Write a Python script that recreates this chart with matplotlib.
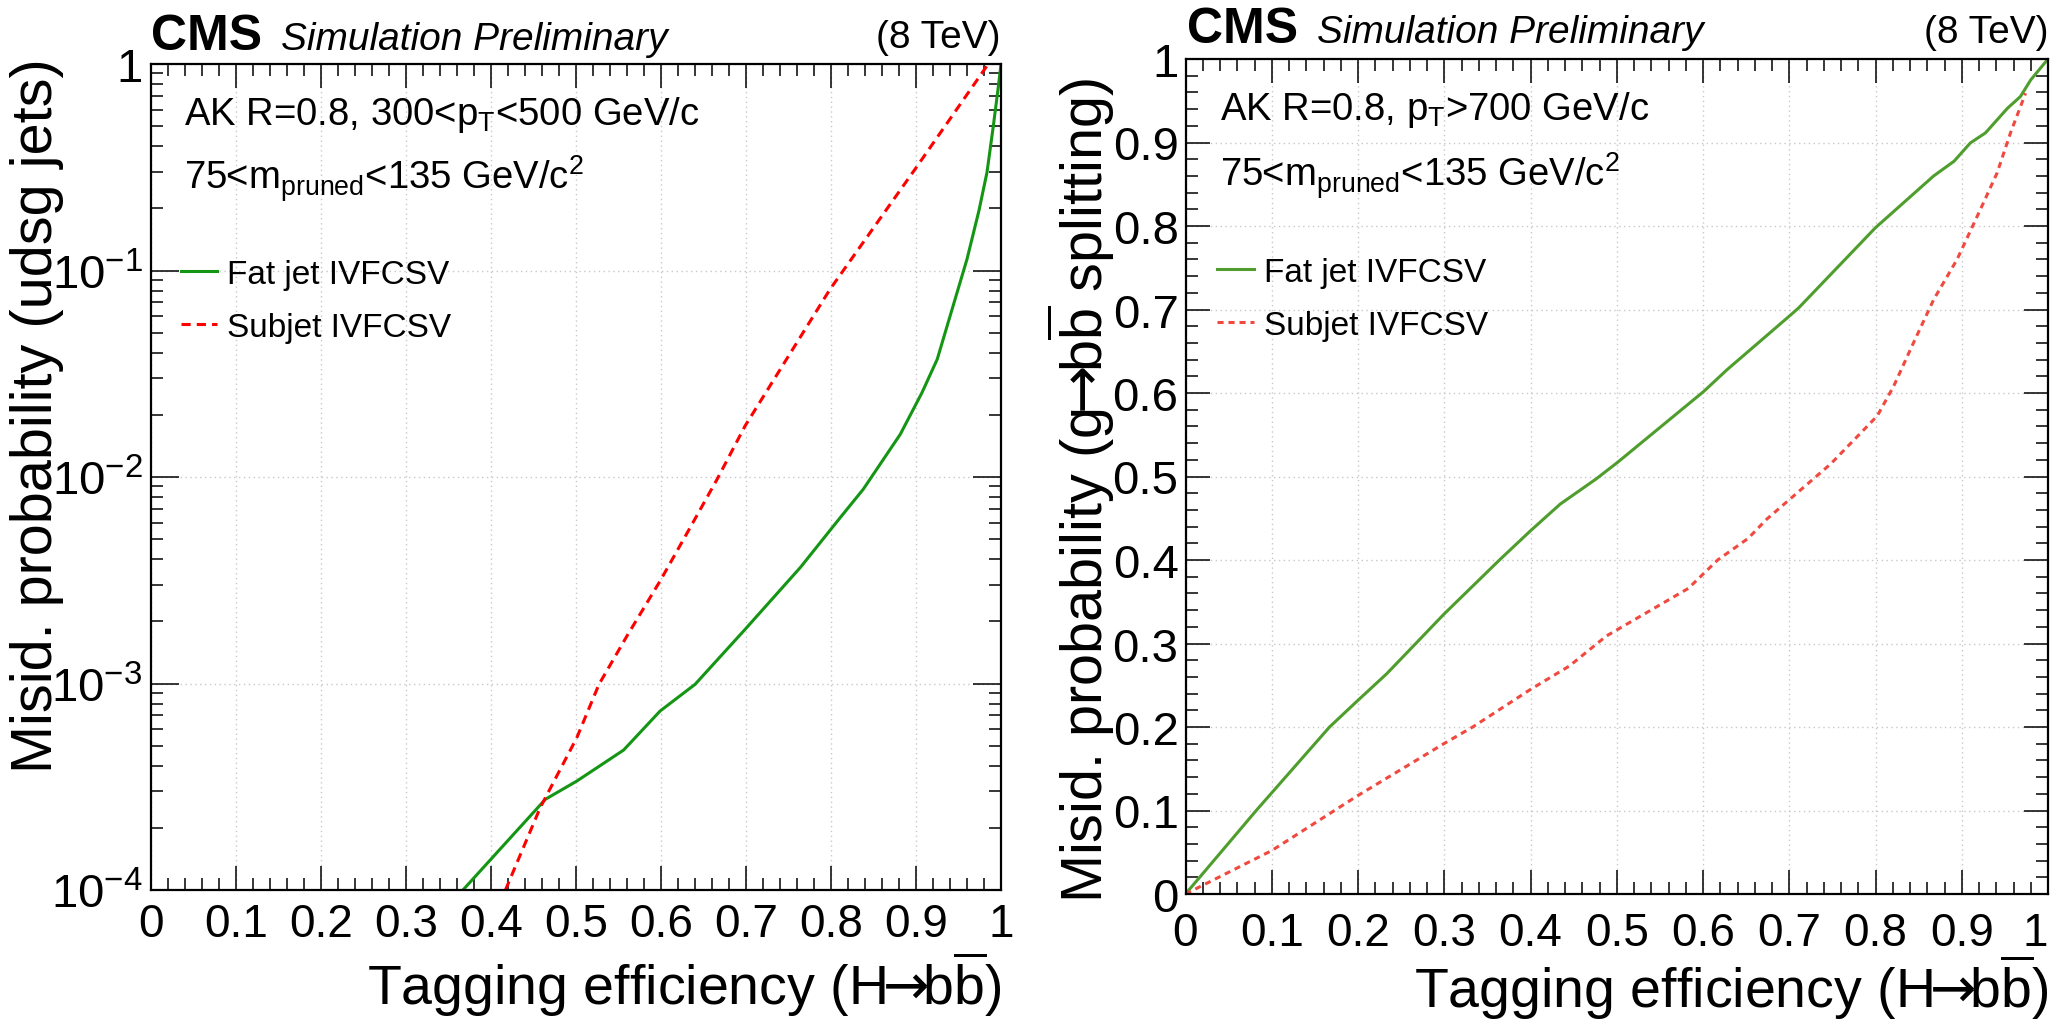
import matplotlib
matplotlib.use("Agg")
import matplotlib.pyplot as plt
from matplotlib import font_manager
from matplotlib.ticker import MultipleLocator, FixedLocator, NullFormatter

# ---- data ----
# left: udsg mistag rate, 300 < pT < 500 GeV/c (log scale)
eff_fat_l = [0.367, 0.464, 0.501, 0.556, 0.599, 0.640, 0.699, 0.764, 0.811, 0.838,
             0.8815, 0.907, 0.925, 0.960, 0.974, 0.9835, 0.991, 0.997, 1.0]
mis_fat_l = [1.0e-4, 2.75e-4, 3.37e-4, 4.76e-4, 7.36e-4, 9.9e-4, 1.83e-3, 3.65e-3,
             6.37e-3, 8.73e-3, 1.61e-2, 2.56e-2, 3.72e-2, 0.1135, 0.1945, 0.2985,
             0.502, 0.785, 1.0]
eff_sub_l = [0.417, 0.458, 0.501, 0.527, 0.560, 0.599, 0.631, 0.666, 0.699,
             0.799, 0.899, 0.985]
mis_sub_l = [1.0e-4, 2.51e-4, 5.47e-4, 9.9e-4, 1.70e-3, 3.14e-3, 5.38e-3, 9.75e-3,
             1.77e-2, 8.13e-2, 0.31, 1.0]

# right: g->bb splitting mistag rate, pT > 700 GeV/c (linear)
eff_fat_r = [0.0, 0.082, 0.167, 0.200, 0.233, 0.267, 0.2995, 0.364, 0.400, 0.4345,
             0.476, 0.501, 0.601, 0.628, 0.700, 0.711, 0.800, 0.8675, 0.891, 0.910,
             0.9275, 0.953, 0.968, 0.980, 1.0]
mis_fat_r = [0.0, 0.10, 0.20, 0.232, 0.2635, 0.300, 0.335, 0.400, 0.435, 0.467,
             0.497, 0.517, 0.602, 0.628, 0.692, 0.702, 0.798, 0.860, 0.8775, 0.8995,
             0.9115, 0.941, 0.955, 0.975, 1.0]
eff_sub_r = [0.0, 0.100, 0.200, 0.2995, 0.333, 0.400, 0.445, 0.488, 0.583, 0.617,
             0.6525, 0.674, 0.748, 0.802, 0.821, 0.844, 0.8675, 0.8946, 0.9217,
             0.941, 0.9565, 0.974]
mis_sub_r = [0.0, 0.052, 0.118, 0.180, 0.200, 0.245, 0.273, 0.309, 0.366, 0.400,
             0.426, 0.449, 0.515, 0.5725, 0.608, 0.660, 0.712, 0.760, 0.820,
             0.8636, 0.9115, 0.959]

xticks = [0, 0.1, 0.2, 0.3, 0.4, 0.5, 0.6, 0.7, 0.8, 0.9, 1.0]
xtick_labels = ["0", "0.1", "0.2", "0.3", "0.4", "0.5", "0.6", "0.7", "0.8", "0.9", "1"]
ylog_ticks = [1e-4, 1e-3, 1e-2, 1e-1, 1]
ylog_labels = ["10$^{-4}$", "10$^{-3}$", "10$^{-2}$", "10$^{-1}$", "1"]

leg_labels = ["Fat jet IVFCSV", "Subjet IVFCSV"]

# ---- fonts ----
names = {f.name for f in font_manager.fontManager.ttflist}
SANS = "Liberation Sans"
if "Liberation Sans Narrow" in names:
    YFONT, YSIZE = "Liberation Sans Narrow", 50.5
else:
    YFONT, YSIZE = SANS, 41.5

plt.rcParams["font.family"] = [SANS, "DejaVu Sans"]
plt.rcParams["mathtext.fontset"] = "custom"
plt.rcParams["mathtext.rm"] = SANS
plt.rcParams["mathtext.it"] = SANS + ":italic"
plt.rcParams["mathtext.bf"] = SANS + ":bold"
plt.rcParams["mathtext.sf"] = "DejaVu Sans"   # only used for the arrow

ARROW = "$\\!\\!\\mathsf{\\rightarrow}\\!\\!$"
BB = "b$\\overline{\\mathrm{b}}$"
XLABEL = "Tagging efficiency (H" + ARROW + BB + ")"

W, H = 2057, 1020
fig = plt.figure(figsize=(W / 100, H / 100), dpi=100)


def px(x, y):
    return x / W, 1 - y / H


def add_axes(l, t, r, b):
    return fig.add_axes([l / W, 1 - b / H, (r - l) / W, (b - t) / H])


def style(ax, xsize, ysize, xpad, ypad):
    for s in ax.spines.values():
        s.set_linewidth(1.6)
    ax.set_xlim(0, 1)
    ax.set_xticks(xticks)
    ax.set_xticklabels(xtick_labels)
    ax.xaxis.set_minor_locator(MultipleLocator(0.02))
    ax.tick_params(which="both", direction="in", top=True, right=True, width=1.1)
    ax.tick_params(which="major", length=17)
    ax.tick_params(which="minor", length=8.5)
    ax.tick_params(axis="x", labelsize=xsize, pad=xpad)
    ax.tick_params(axis="y", labelsize=ysize, pad=ypad)
    ax.grid(True, which="major", color="#c8c8c8", linestyle=(0, (1, 2.5)), linewidth=1.0)
    ax.set_axisbelow(True)


def legend(ax, x, y):
    ax.legend(loc="upper left", bbox_to_anchor=(x, y), frameon=False,
              fontsize=24, borderpad=0, borderaxespad=0, handlelength=1.1,
              handletextpad=0.3, labelspacing=0.66)


# ---------------- left panel ----------------
axl = add_axes(151, 65, 1001, 891)
axl.plot(eff_fat_l, mis_fat_l, color="#149614", lw=2.2, label=leg_labels[0])
axl.plot(eff_sub_l, mis_sub_l, color="#ff0000", lw=2.2, linestyle=(0, (3, 2)),
         label=leg_labels[1])
axl.set_yscale("log")
axl.set_ylim(1e-4, 1)
axl.yaxis.set_major_locator(FixedLocator(ylog_ticks))
axl.set_yticklabels(ylog_labels)
axl.yaxis.set_minor_locator(FixedLocator(
    [m * 10.0 ** e for e in range(-4, 0) for m in range(2, 10)]))
axl.yaxis.set_minor_formatter(NullFormatter())
style(axl, 33, 34, 9, 6)
axl.tick_params(axis="y", which="major", length=20)
legend(axl, 0.035, 0.764)

fig.text(*px(151, 50), "CMS", fontsize=36, fontweight="bold", ha="left", va="baseline")
fig.text(*px(281, 50), "Simulation Preliminary", fontsize=28, style="italic",
         ha="left", va="baseline")
fig.text(*px(1001, 48), "(8 TeV)", fontsize=28, ha="right", va="baseline")
fig.text(*px(184, 125), "AK R=0.8, 300<p$_{\\mathrm{T}}$<500 GeV/c", fontsize=27.5,
         ha="left", va="baseline")
fig.text(*px(184, 190), "75<m$_{\\mathrm{pruned}}$<135 GeV/c$^{2}$", fontsize=27.5,
         ha="left", va="baseline")
fig.text(*px(1001, 1005), XLABEL, fontsize=40, ha="right", va="baseline")
fig.text(*px(10, 773), "Misid. probability (udsg jets)", fontsize=YSIZE,
         family=[YFONT, "DejaVu Sans"], rotation=90, ha="left", va="bottom")

# ---------------- right panel ----------------
axr = add_axes(1185.5, 60, 2048, 895)
axr.plot(eff_fat_r, mis_fat_r, color="#4f9e2d", lw=2.2, label=leg_labels[0])
axr.plot(eff_sub_r, mis_sub_r, color="#f04a40", lw=2.2, linestyle=(0, (2, 1.6)),
         label=leg_labels[1])
axr.set_ylim(0, 1)
axr.set_yticks(xticks)
axr.set_yticklabels(xtick_labels)
axr.yaxis.set_minor_locator(MultipleLocator(0.02))
style(axr, 33, 34, 12, 5)
axr.get_xticklabels()[-1].set_horizontalalignment("right")
legend(axr, 0.0365, 0.763)

fig.text(*px(1187, 43), "CMS", fontsize=36, fontweight="bold", ha="left", va="baseline")
fig.text(*px(1317, 43), "Simulation Preliminary", fontsize=28, style="italic",
         ha="left", va="baseline")
fig.text(*px(2048, 43), "(8 TeV)", fontsize=28, ha="right", va="baseline")
fig.text(*px(1220, 120), "AK R=0.8, p$_{\\mathrm{T}}$>700 GeV/c", fontsize=27.5,
         ha="left", va="baseline")
fig.text(*px(1220, 187), "75<m$_{\\mathrm{pruned}}$<135 GeV/c$^{2}$", fontsize=27.5,
         ha="left", va="baseline")
fig.text(*px(2048, 1008), XLABEL, fontsize=40, ha="right", va="baseline")
fig.text(*px(1045, 903), "Misid. probability (g" + ARROW + BB + " splitting)",
         fontsize=YSIZE, family=[YFONT, "DejaVu Sans"], rotation=90,
         ha="left", va="bottom")

fig.savefig("out.png", dpi=100)
